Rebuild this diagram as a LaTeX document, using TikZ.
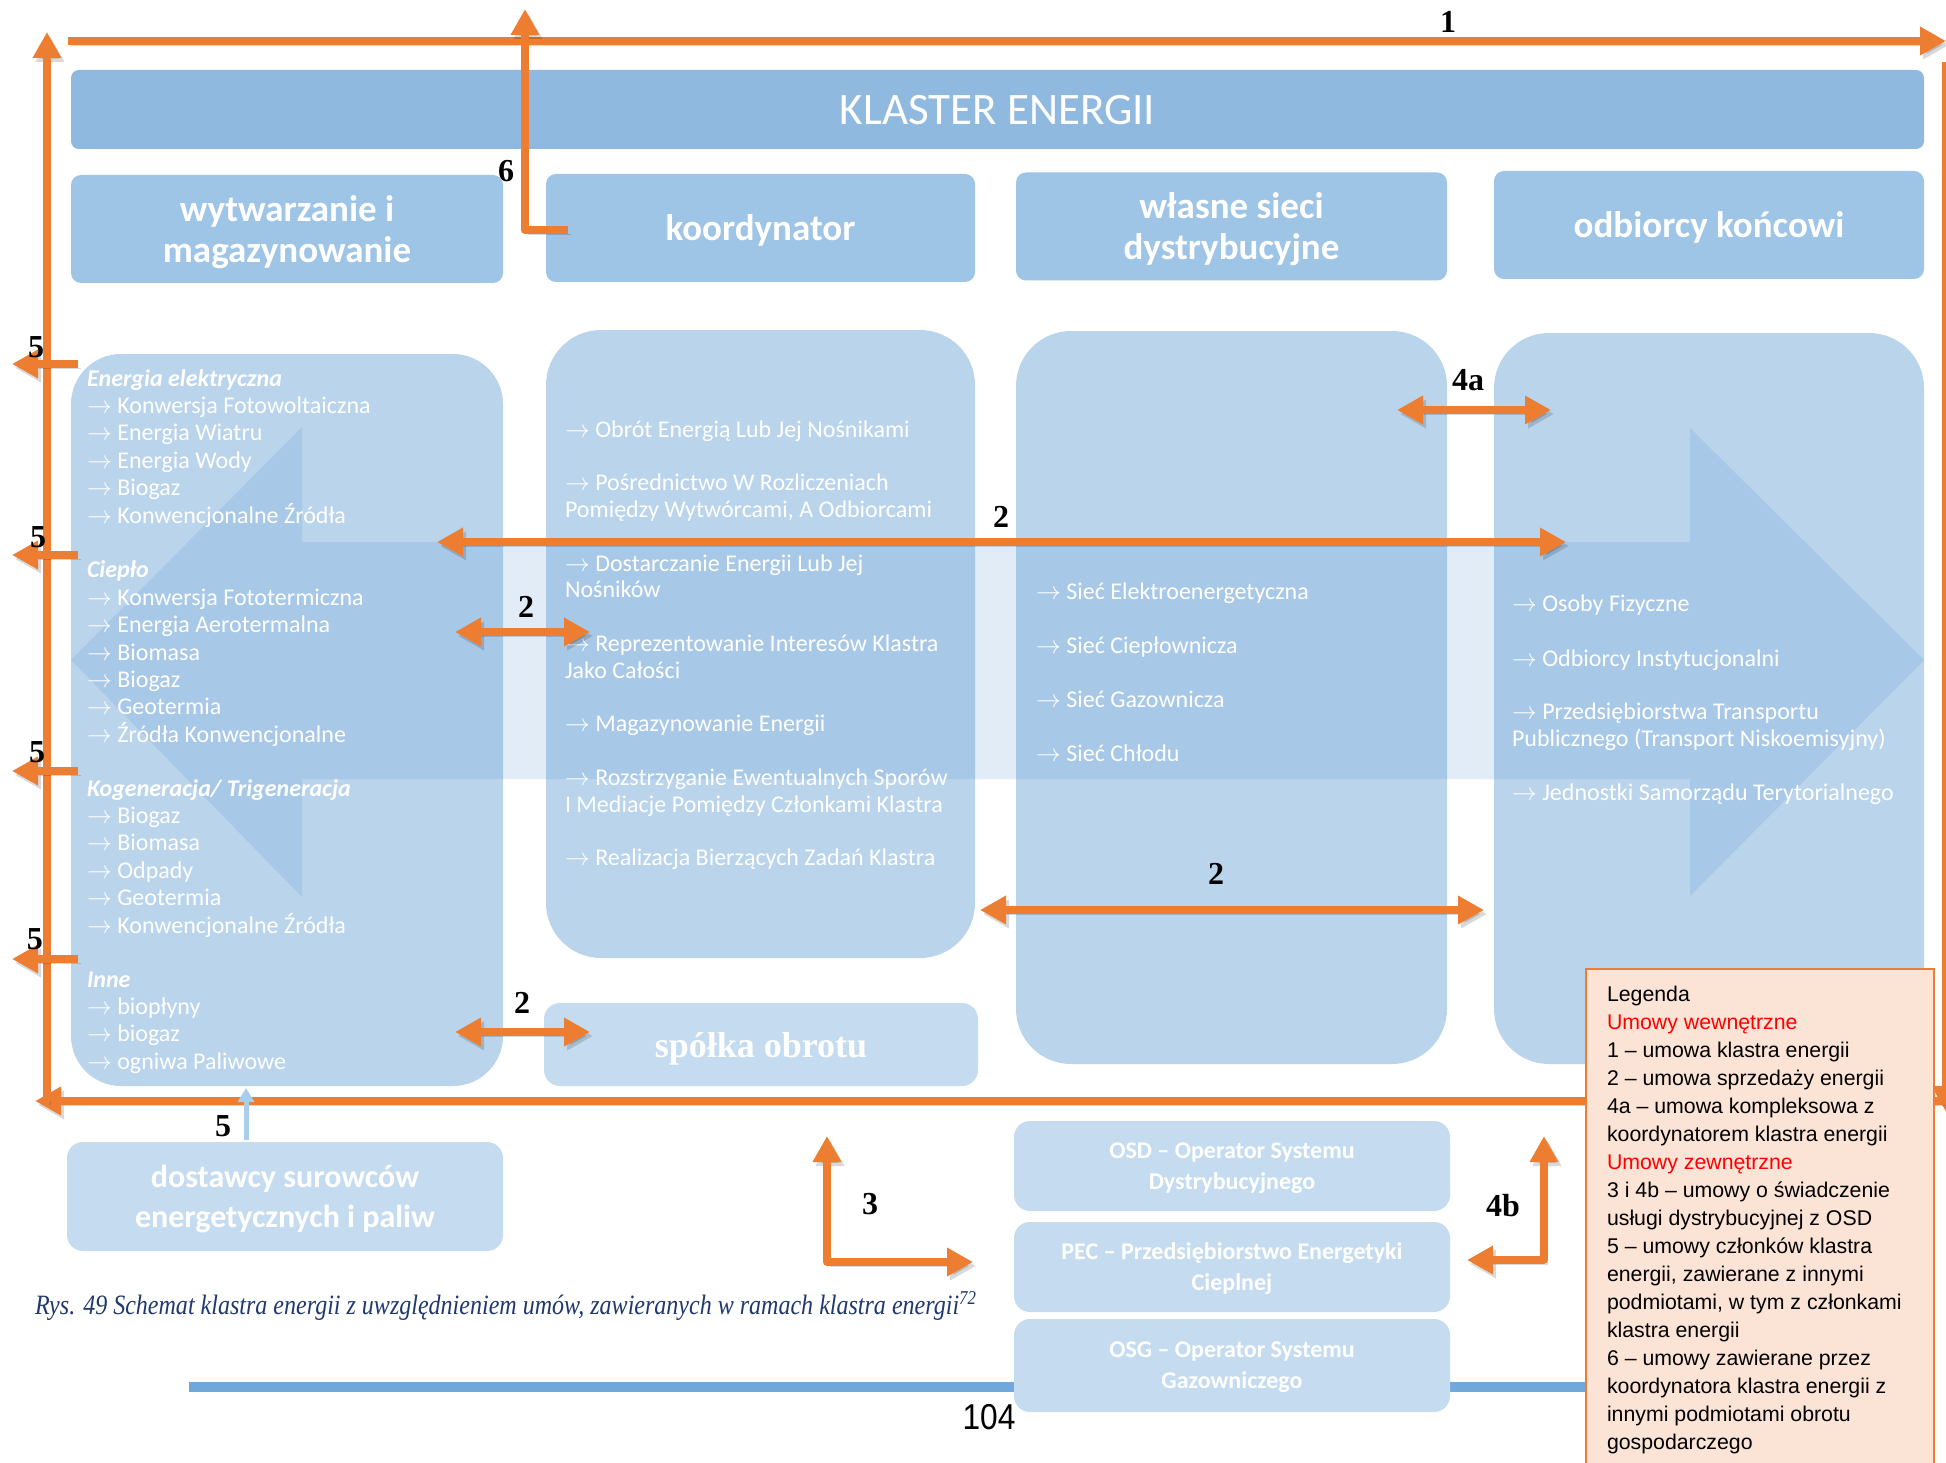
\documentclass[tikz,border=0pt]{standalone}
\usepackage{fontspec}
\setmainfont{Carlito}
\newfontfamily\numfont{Liberation Serif}
\newfontfamily\legfont{Liberation Sans}
\newfontfamily\capfont[FakeStretch=0.858]{Liberation Serif}
\newfontfamily\pgfont[FakeStretch=0.88]{Liberation Sans}
\usetikzlibrary{arrows.meta}
\definecolor{orng}{RGB}{237,125,49}
\definecolor{klaster}{RGB}{143,185,223}
\definecolor{hdr}{RGB}{158,196,230}
\definecolor{boxbase}{RGB}{76,142,205}
\definecolor{band}{RGB}{226,236,247}
\definecolor{lightbox}{RGB}{197,220,240}
\definecolor{legfill}{RGB}{251,228,213}
\definecolor{capblue}{RGB}{31,56,110}
\definecolor{pageline}{RGB}{112,168,220}
\definecolor{legred}{RGB}{255,0,0}
\definecolor{lbarrow}{RGB}{170,205,235}
\newcommand\myarr{$\rightarrow$}
\begin{document}
\begin{tikzpicture}[x=1pt,y=-1pt,
  every node/.style={inner sep=0pt,outer sep=0pt},
  klbox/.style={fill=klaster, rounded corners=8pt, text=white, text depth=0pt},
  hbox/.style={fill=hdr, rounded corners=10pt, text=white, align=center, text depth=0pt, font=\fontsize{37}{41}\selectfont\bfseries},
  cbox/.style={fill=boxbase, fill opacity=0.38, rounded corners=55pt},
  lbox/.style={fill=lightbox, rounded corners=16pt, text=white, align=center, text depth=0pt},
  li/.style={anchor=base west, text=white, font=\fontsize{24}{27}\selectfont},
  hd/.style={anchor=base west, text=white, font=\fontsize{24}{27}\selectfont\bfseries\itshape},
  lbl/.style={font=\numfont\bfseries\fontsize{32}{34}\selectfont, text=black},
  legt/.style={anchor=base west, font=\legfont\fontsize{21.3}{24}\selectfont, text=black},
  oarr/.style={draw=orng, line width=7.5pt, line join=round, -{Triangle[length=26pt,width=27pt]},
     preaction={draw=black, opacity=0.15, transform canvas={shift={(3,4)}}}},
  oarrd/.style={oarr, {Triangle[length=26pt,width=27pt]}-{Triangle[length=26pt,width=27pt]}},
  lbarr/.style={draw=lbarrow, line width=5pt, -{Triangle[length=14pt,width=16pt]}}
]
\useasboundingbox (0,0) rectangle (1946,1463);
\clip (0,0) rectangle (1946,1463);
\fill[white] (0,0) rectangle (1946,1463);

% background double arrow
\fill[band] (71,660) -- (302,427) -- (302,542) -- (1690,542) -- (1690,428) -- (1924,660)
  -- (1690,896) -- (1690,779) -- (302,779) -- (302,897) -- cycle;

% top boxes
\node[klbox, minimum width=1853pt, minimum height=79pt, font=\fontsize{45}{50}\selectfont] (klaster) at (997.5,109.5) {KLASTER ENERGII};
\node[hbox, minimum width=432pt, minimum height=108pt] (hwyt) at (287,229) {wytwarzanie i\\magazynowanie};
\node[hbox, minimum width=429pt, minimum height=108pt] (hkoo) at (760.5,228) {koordynator};
\node[hbox, minimum width=431pt, minimum height=108pt] (hsie) at (1231.5,226.5) {własne sieci\\dystrybucyjne};
\node[hbox, minimum width=430pt, minimum height=108pt] (hodb) at (1709,225) {odbiorcy końcowi};

% content boxes
\node[cbox, rounded corners=50pt, minimum width=432pt, minimum height=732pt] (cwyt) at (287,720) {};
\node[cbox, minimum width=429pt, minimum height=628pt] (ckoo) at (760.5,644) {};
\node[cbox, minimum width=431pt, minimum height=733pt] (csie) at (1231.5,697.5) {};
\node[cbox, minimum width=430pt, minimum height=731pt] (codb) at (1709,698.5) {};

% page line
\coordinate (pl1) at (189,1387);
\coordinate (pl2) at (1600,1387);
\draw[pageline, line width=10pt] (pl1) -- (pl2);

% lower boxes
\node[lbox, minimum width=434pt, minimum height=83pt, font=\numfont\bfseries\fontsize{36}{40}\selectfont] (spolka) at (761,1044.5) {spółka obrotu};
\node[lbox, minimum width=436pt, minimum height=109pt, font=\fontsize{32}{40}\selectfont\bfseries] (dost) at (285,1196.5) {dostawcy surowców\\energetycznych i paliw};
\node[lbox, minimum width=436pt, minimum height=90pt, font=\fontsize{24}{31}\selectfont\bfseries] (osd) at (1232,1166) {OSD – Operator Systemu\\Dystrybucyjnego};
\node[lbox, minimum width=436pt, minimum height=90pt, font=\fontsize{24}{31}\selectfont\bfseries] (pec) at (1232,1267) {PEC – Przedsiębiorstwo Energetyki\\Cieplnej};
\node[lbox, minimum width=436pt, minimum height=93pt, font=\fontsize{24}{31}\selectfont\bfseries] (osg) at (1232,1365.5) {OSG – Operator Systemu\\Gazowniczego};

% left list
\node[hd] (w0) at (87,386) {Energia elektryczna};
\node[li] (w1) at (87,413.4) {\myarr{} Konwersja Fotowoltaiczna};
\node[li] (w2) at (87,440.8) {\myarr{} Energia Wiatru};
\node[li] (w3) at (87,468.2) {\myarr{} Energia Wody};
\node[li] (w4) at (87,495.6) {\myarr{} Biogaz};
\node[li] (w5) at (87,523.0) {\myarr{} Konwencjonalne Źródła};
\node[hd] (w7) at (87,577.8) {Ciepło};
\node[li] (w8) at (87,605.2) {\myarr{} Konwersja Fototermiczna};
\node[li] (w9) at (87,632.6) {\myarr{} Energia Aerotermalna};
\node[li] (w10) at (87,660.0) {\myarr{} Biomasa};
\node[li] (w11) at (87,687.4) {\myarr{} Biogaz};
\node[li] (w12) at (87,714.8) {\myarr{} Geotermia};
\node[li] (w13) at (87,742.2) {\myarr{} Źródła Konwencjonalne};
\node[hd] (w15) at (87,796.0) {Kogeneracja/ Trigeneracja};
\node[li] (w16) at (87,823.4) {\myarr{} Biogaz};
\node[li] (w17) at (87,850.8) {\myarr{} Biomasa};
\node[li] (w18) at (87,878.2) {\myarr{} Odpady};
\node[li] (w19) at (87,905.6) {\myarr{} Geotermia};
\node[li] (w20) at (87,933.0) {\myarr{} Konwencjonalne Źródła};
\node[hd] (w22) at (87,987.0) {Inne};
\node[li] (w23) at (87,1014.4) {\myarr{} biopłyny};
\node[li] (w24) at (87,1041.8) {\myarr{} biogaz};
\node[li] (w25) at (87,1069.2) {\myarr{} ogniwa Paliwowe};

% middle list
\node[li] (k0) at (565,437) {\myarr{} Obrót Energią Lub Jej Nośnikami};
\node[li] (k2) at (565,490.6) {\myarr{} Pośrednictwo W Rozliczeniach};
\node[li] (k3) at (565,517.4) {Pomiędzy Wytwórcami, A Odbiorcami};
\node[li] (k5) at (565,571) {\myarr{} Dostarczanie Energii Lub Jej};
\node[li] (k6) at (565,597.8) {Nośników};
\node[li] (k8) at (565,651.4) {\myarr{} Reprezentowanie Interesów Klastra};
\node[li] (k9) at (565,678.2) {Jako Całości};
\node[li] (k11) at (565,731.8) {\myarr{} Magazynowanie Energii};
\node[li] (k13) at (565,785.4) {\myarr{} Rozstrzyganie Ewentualnych Sporów};
\node[li] (k14) at (565,812.2) {I Mediacje Pomiędzy Członkami Klastra};
\node[li] (k16) at (565,865.8) {\myarr{} Realizacja Bierzących Zadań Klastra};

% third list
\node[li] (s1) at (1036,599) {\myarr{} Sieć Elektroenergetyczna};
\node[li] (s2) at (1036,653) {\myarr{} Sieć Ciepłownicza};
\node[li] (s3) at (1036,707) {\myarr{} Sieć Gazownicza};
\node[li] (s4) at (1036,761) {\myarr{} Sieć Chłodu};

% fourth list
\node[li] (o1) at (1512,611) {\myarr{} Osoby Fizyczne};
\node[li] (o2) at (1512,666) {\myarr{} Odbiorcy Instytucjonalni};
\node[li] (o3) at (1512,719) {\myarr{} Przedsiębiorstwa Transportu};
\node[li] (o4) at (1512,746) {Publicznego (Transport Niskoemisyjny)};
\node[li] (o5) at (1512,800) {\myarr{} Jednostki Samorządu Terytorialnego};

% ---- orange connectors ----
\coordinate (t1s) at (68,41);   \coordinate (t1e) at (1946,41);
\coordinate (r1s) at (1946,62); \coordinate (r1e) at (1946,1112);
\coordinate (b1s) at (1946,1101); \coordinate (b1e) at (35,1101);
\coordinate (l1s) at (47,1101); \coordinate (l1e) at (47,32);
\draw[oarr] (t1s) -- (t1e);
\draw[oarr] (r1s) -- (r1e);
\draw[oarr] (b1s) -- (b1e);
\draw[oarr] (l1s) -- (l1e);

\coordinate (s6a) at (568,230); \coordinate (s6b) at (525,230); \coordinate (s6c) at (525,9);
\draw[oarr] (s6a) -- (s6b) -- (s6c);

\foreach \yy [count=\i] in {364,555,771,959} {
  \coordinate (f\i s) at (78,\yy);
  \coordinate (f\i e) at (12,\yy);
  \draw[oarr] (f\i s) -- (f\i e);
}

\coordinate (m2l) at (437,542);  \coordinate (m2r) at (1566,542);
\draw[oarrd] (m2l) -- (m2r);
\coordinate (u2l) at (455,632);  \coordinate (u2r) at (590,632);
\draw[oarrd] (u2l) -- (u2r);
\coordinate (d2l) at (455,1032); \coordinate (d2r) at (590,1032);
\draw[oarrd] (d2l) -- (d2r);
\coordinate (c2l) at (980,910);  \coordinate (c2r) at (1484,910);
\draw[oarrd] (c2l) -- (c2r);
\coordinate (a4l) at (1397,410); \coordinate (a4r) at (1551,410);
\draw[oarrd] (a4l) -- (a4r);
\coordinate (a3t) at (827,1136); \coordinate (a3c) at (827,1262); \coordinate (a3r) at (973,1262);
\draw[oarrd] (a3t) -- (a3c) -- (a3r);
\coordinate (b4t) at (1544,1136); \coordinate (b4c) at (1544,1260); \coordinate (b4l) at (1467,1260);
\draw[oarrd] (b4t) -- (b4c) -- (b4l);

\coordinate (d5s) at (246,1140); \coordinate (d5e) at (246,1088);
\draw[lbarr] (d5s) -- (d5e);

% labels
\node[lbl] (n1) at (1448,22) {1};
\node[lbl] (n6) at (506,171) {6};
\node[lbl] (n5a) at (36,347) {5};
\node[lbl] (n5b) at (38,537) {5};
\node[lbl] (n5c) at (37,752) {5};
\node[lbl] (n5d) at (35,939) {5};
\node[lbl] (n5e) at (223,1126) {5};
\node[lbl] (n2a) at (1001,517) {2};
\node[lbl] (n2b) at (526,607) {2};
\node[lbl] (n2c) at (522,1003) {2};
\node[lbl] (n2d) at (1216,874) {2};
\node[lbl] (n4a) at (1468,380) {4a};
\node[lbl] (n3) at (870,1204) {3};
\node[lbl] (n4b) at (1503,1206) {4b};

% legend
\node[draw=orng, line width=2.5pt, fill=legfill, minimum width=348pt, minimum height=520pt, anchor=north west] (leg) at (1586,969) {};
\foreach \t [count=\i from 0] in {Legenda, {\color{legred}Umowy wewnętrzne}, 1 – umowa klastra energii,
  2 – umowa sprzedaży energii, 4a – umowa kompleksowa z, koordynatorem klastra energii,
  {\color{legred}Umowy zewnętrzne}, 3 i 4b – umowy o świadczenie, usługi dystrybucyjnej z OSD,
  5 – umowy członków klastra, {energii, zawierane z innymi}, {podmiotami, w tym z członkami},
  klastra energii, 6 – umowy zawierane przez, koordynatora klastra energii z,
  innymi podmiotami obrotu, gospodarczego}
  \node[legt] (lg\i) at (1607,{1001+28.05*\i}) {\t};

% caption and page number
\node[anchor=base west, text=capblue, font=\capfont\itshape\fontsize{28}{30}\selectfont] (cap) at (35,1314)
  {Rys. 49 Schemat klastra energii z uwzględnieniem umów, zawieranych w ramach klastra energii\textsuperscript{72}};
\node[anchor=base, font=\pgfont\fontsize{36}{40}\selectfont] (pg) at (989,1429) {104};
\end{tikzpicture}
\end{document}
